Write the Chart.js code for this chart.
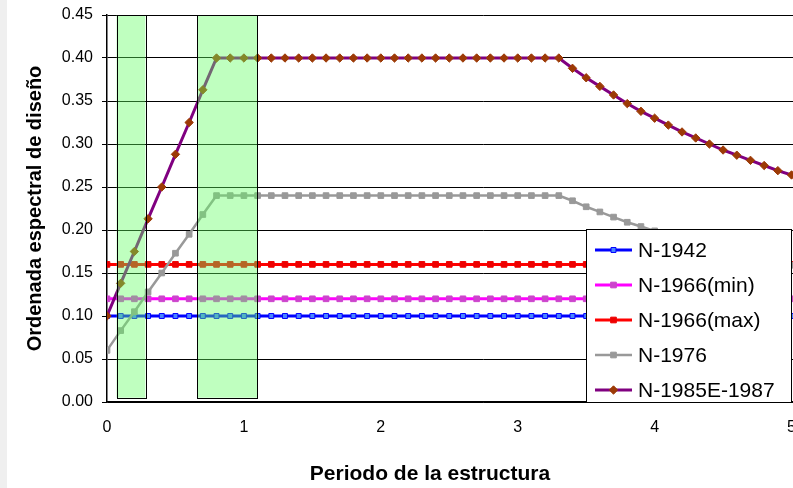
<!DOCTYPE html>
<html>
<head>
<meta charset="utf-8">
<script src="https://cdn.jsdelivr.net/npm/chart.js@4.4.1/dist/chart.umd.min.js"></script>
<style>
html,body{margin:0;padding:0;overflow:hidden;}
body{width:793px;height:488px;background:linear-gradient(to right,#efefef 0,#efefef 7px,#fff 7px);}
#wrap{position:absolute;left:0;top:0;}
</style>
</head>
<body>
<div id="wrap"><canvas id="myChart" width="866" height="488"></canvas></div>
<script>
// periodo T (s)
const periods=[0,0.1,0.2,0.3,0.4,0.5,0.6,0.7,0.8,0.9,1,1.1,1.2,1.3,1.4,1.5,1.6,1.7,1.8,1.9,
  2,2.1,2.2,2.3,2.4,2.5,2.6,2.7,2.8,2.9,3,3.1,3.2,3.3,3.4,3.5,3.6,3.7,3.8,3.9,
  4,4.1,4.2,4.3,4.4,4.5,4.6,4.7,4.8,4.9,5,5.1];

const n1942=[0.10,0.10,0.10,0.10,0.10,0.10,0.10,0.10,0.10,0.10,0.10,0.10,0.10,0.10,0.10,0.10,0.10,0.10,0.10,0.10,
  0.10,0.10,0.10,0.10,0.10,0.10,0.10,0.10,0.10,0.10,0.10,0.10,0.10,0.10,0.10,0.10,0.10,0.10,0.10,0.10,
  0.10,0.10,0.10,0.10,0.10,0.10,0.10,0.10,0.10,0.10,0.10,0.10];
const n1966min=[0.12,0.12,0.12,0.12,0.12,0.12,0.12,0.12,0.12,0.12,0.12,0.12,0.12,0.12,0.12,0.12,0.12,0.12,0.12,0.12,
  0.12,0.12,0.12,0.12,0.12,0.12,0.12,0.12,0.12,0.12,0.12,0.12,0.12,0.12,0.12,0.12,0.12,0.12,0.12,0.12,
  0.12,0.12,0.12,0.12,0.12,0.12,0.12,0.12,0.12,0.12,0.12,0.12];
const n1966max=[0.16,0.16,0.16,0.16,0.16,0.16,0.16,0.16,0.16,0.16,0.16,0.16,0.16,0.16,0.16,0.16,0.16,0.16,0.16,0.16,
  0.16,0.16,0.16,0.16,0.16,0.16,0.16,0.16,0.16,0.16,0.16,0.16,0.16,0.16,0.16,0.16,0.16,0.16,0.16,0.16,
  0.16,0.16,0.16,0.16,0.16,0.16,0.16,0.16,0.16,0.16,0.16,0.16];
const n1976=[0.06,0.083,0.105,0.128,0.15,0.173,0.195,0.218,0.24,0.24,0.24,0.24,0.24,0.24,0.24,0.24,0.24,0.24,0.24,0.24,
  0.24,0.24,0.24,0.24,0.24,0.24,0.24,0.24,0.24,0.24,0.24,0.24,0.24,0.24,0.234,0.227,0.221,0.215,0.209,0.204,
  0.199,0.194,0.189,0.185,0.181,0.177,0.173,0.169,0.166,0.162,0.159,0.156];
const n1985=[0.10,0.138,0.175,0.213,0.25,0.288,0.325,0.363,0.40,0.40,0.40,0.40,0.40,0.40,0.40,0.40,0.40,0.40,0.40,0.40,
  0.40,0.40,0.40,0.40,0.40,0.40,0.40,0.40,0.40,0.40,0.40,0.40,0.40,0.40,0.388,0.377,0.367,0.357,0.347,0.338,
  0.330,0.322,0.314,0.307,0.300,0.293,0.287,0.281,0.275,0.269,0.264,0.259];

const seriesNames=['N-1942','N-1966(min)','N-1966(max)','N-1976','N-1985E-1987'];
const yTickLabels=['0.00','0.05','0.10','0.15','0.20','0.25','0.30','0.35','0.40','0.45'];
const xTickLabels=['0','1','2','3','4','5'];

// franjas verdes (periodos)
const bandStart=[0.07,0.66];
const bandEnd=[0.28,1.10];
const bandLow=0.005, bandHigh=0.45;

Chart.defaults.font.family="'Liberation Sans', Arial, sans-serif";
Chart.defaults.color="#000";

const pts=(vals)=>periods.map((t,i)=>({x:t,y:vals[i]}));

const bandsPlugin={
  id:'bands',
  afterDatasetsDraw(chart){
    const ctx=chart.ctx, xs=chart.scales.x, ys=chart.scales.y;
    ctx.save();
    for(let i=0;i<bandStart.length;i++){
      const x0=xs.getPixelForValue(bandStart[i]), x1=xs.getPixelForValue(bandEnd[i]);
      const y0=ys.getPixelForValue(bandHigh), y1=ys.getPixelForValue(bandLow);
      ctx.fillStyle='rgba(96,255,96,0.4)';
      ctx.fillRect(x0,y0,x1-x0,y1-y0);
      ctx.strokeStyle='#000';
      ctx.lineWidth=1;
      ctx.strokeRect(Math.round(x0)+0.5,Math.round(y0)+0.5,Math.round(x1-x0),Math.round(y1-y0));
    }
    ctx.restore();
  }
};

const boxLegend={
  id:'boxLegend',
  afterDraw(chart){
    const ctx=chart.ctx;
    const L=586.5,T=229.5,W=205,H=173;
    ctx.save();
    ctx.fillStyle='#fff';
    ctx.fillRect(L,T,W,H);
    ctx.strokeStyle='#000';
    ctx.lineWidth=1;
    ctx.strokeRect(L,T,W,H);
    ctx.font="21px 'Liberation Sans', Arial, sans-serif";
    ctx.textBaseline='middle';
    const dsList=chart.data.datasets;
    dsList.forEach((ds,i)=>{
      const y=250+i*35;
      ctx.strokeStyle=ds.borderColor;
      ctx.lineWidth=ds.borderWidth;
      ctx.beginPath();ctx.moveTo(595,y);ctx.lineTo(632,y);ctx.stroke();
      ctx.fillStyle=ds.pointBackgroundColor;
      ctx.strokeStyle=ds.pointBorderColor;
      ctx.lineWidth=ds.pointBorderWidth;
      Chart.helpers.drawPoint(ctx,{pointStyle:ds.pointStyle,radius:ds.pointRadius,rotation:0,borderWidth:ds.pointBorderWidth},613.5,y);
      ctx.fillStyle='#000';
      ctx.fillText(ds.label,638,y+1);
    });
    ctx.restore();
  }
};

const ctx=document.getElementById('myChart').getContext('2d');
const myChart=new Chart(ctx,{
  type:'line',
  data:{
    datasets:[
      {label:seriesNames[0],data:pts(n1942),borderColor:'#0000ff',borderWidth:3,pointStyle:'rect',pointRadius:3.5,
        pointBackgroundColor:'#4a86ff',pointBorderColor:'#0000ff',pointBorderWidth:1,order:4},
      {label:seriesNames[1],data:pts(n1966min),borderColor:'#ff00ff',borderWidth:3,pointStyle:'rect',pointRadius:4,
        pointBackgroundColor:'#cc44cc',pointBorderColor:'#cc44cc',pointBorderWidth:1,order:3},
      {label:seriesNames[2],data:pts(n1966max),borderColor:'#ff0000',borderWidth:3,pointStyle:'rect',pointRadius:4,
        pointBackgroundColor:'#ee0000',pointBorderColor:'#ee0000',pointBorderWidth:1,order:2},
      {label:seriesNames[3],data:pts(n1976),borderColor:'#999999',borderWidth:2.5,pointStyle:'rect',pointRadius:4,
        pointBackgroundColor:'#999999',pointBorderColor:'#999999',pointBorderWidth:1,order:1},
      {label:seriesNames[4],data:pts(n1985),borderColor:'#800080',borderWidth:3,pointStyle:'rectRot',pointRadius:4.2,
        pointBackgroundColor:'#9c3a06',pointBorderColor:'#9c3a06',pointBorderWidth:1,order:0}
    ]
  },
  options:{
    responsive:false,
    animation:false,
    layout:{padding:{top:15,right:6,left:0,bottom:0}},
    elements:{line:{tension:0}},
    plugins:{
      legend:{display:false},
      tooltip:{enabled:false},
      title:{display:true,position:'bottom',fullSize:true,text:'Periodo de la estructura',
        font:{size:21,weight:'bold'},color:'#000',padding:{top:24,bottom:1}}
    },
    scales:{
      x:{
        type:'linear',min:0,max:5.5,
        grid:{display:false,drawTicks:false},
        border:{display:true,color:'#000',width:1.5},
        ticks:{stepSize:1,includeBounds:false,padding:16,font:{size:16},color:'#000',
          callback:(v)=>Number.isInteger(v)?xTickLabels[v]:''},
        afterFit:(s)=>{s.height=35.8;}
      },
      y:{
        min:0,max:0.45,
        grid:{color:'#000',lineWidth:1,drawTicks:true,tickLength:5},
        border:{display:true,color:'#000',width:1.5},
        ticks:{stepSize:0.05,padding:9,font:{size:16,lineHeight:0.7},color:'#000',
          callback:(v,i)=>yTickLabels[i]},
        title:{display:true,text:'Ordenada espectral de diseño',font:{size:20,weight:'bold'},color:'#000',
          padding:{top:23,bottom:0}},
        afterFit:(s)=>{s.width=107;}
      }
    }
  },
  plugins:[bandsPlugin,boxLegend]
});
</script>
</body>
</html>
